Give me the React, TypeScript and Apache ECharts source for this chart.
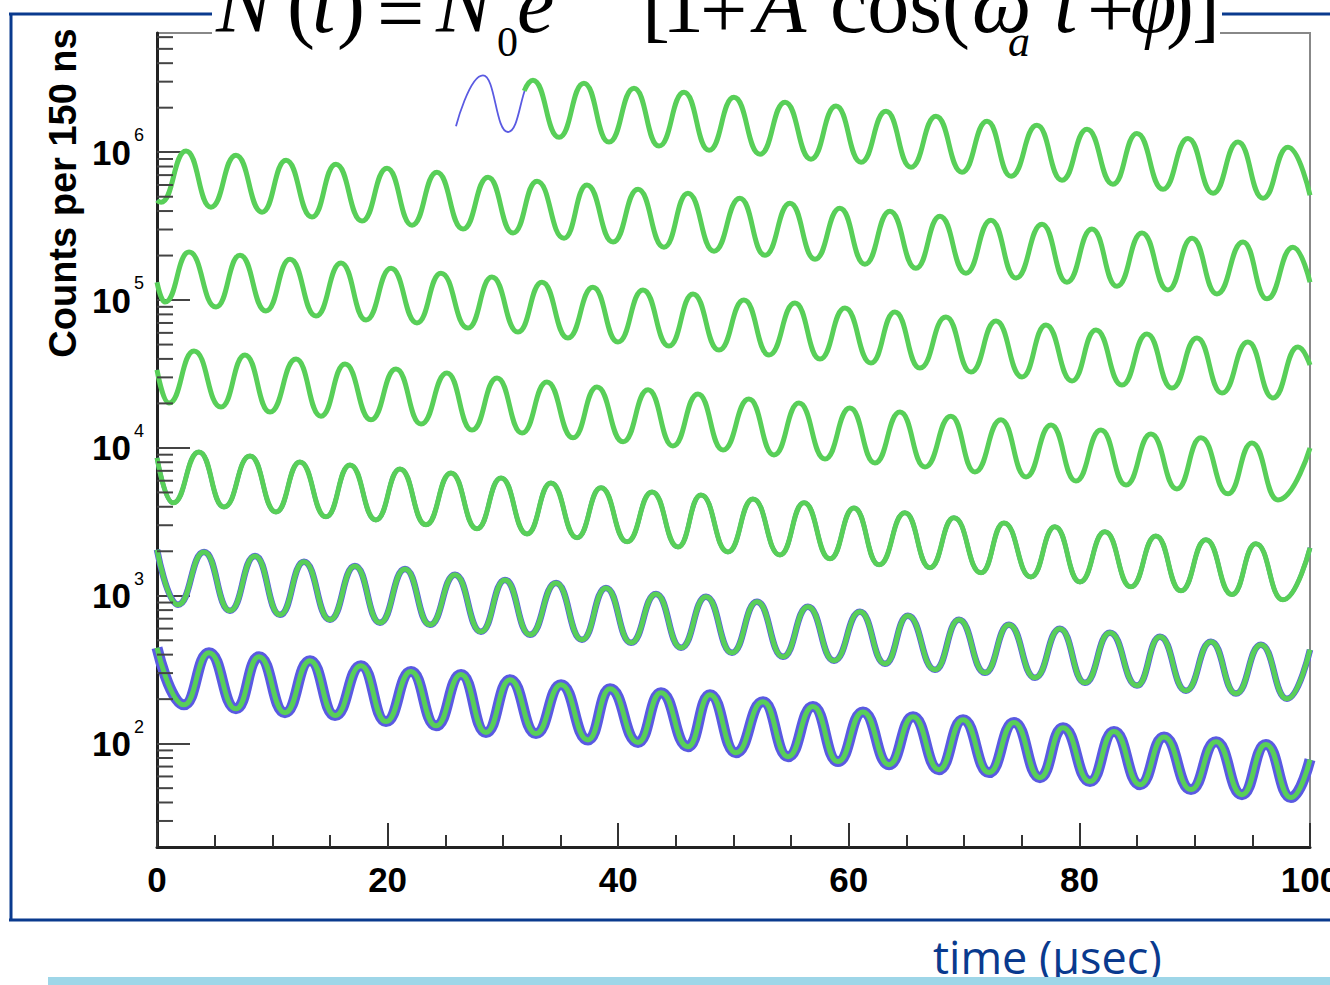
import React, { useEffect, useRef } from "react";
import * as echarts from "echarts";

// ---- data (time in microseconds, counts per 150 ns) ----
const xTickValues = [0, 20, 40, 60, 80, 100];
const yDecadeValues = [1e2, 1e3, 1e4, 1e5, 1e6];
const yMinorTickValues = [
  30, 40, 50, 60, 70, 80, 90,
  200, 300, 400, 500, 600, 700, 800, 900,
  2000, 3000, 4000, 5000, 6000, 7000, 8000, 9000,
  2e4, 3e4, 4e4, 5e4, 6e4, 7e4, 8e4, 9e4,
  2e5, 3e5, 4e5, 5e5, 6e5, 7e5, 8e5, 9e5,
  2e6, 3e6, 4e6, 5e6, 6e6,
];

// early data points of the first strip (before the fit starts)
const dataRow1Early: [number, number][] = [
  [25.93, 1.5e6], [28.27, 3.31e6], [30.44, 1.37e6],
];

// fitted curve, extrema read per strip
const fitRow1: [number, number][] = [
  [31.85, 2.6e6], [32.61, 3.07e6], [34.87, 1.26e6], [37.03, 2.93e6], [39.2, 1.17e6], [41.37, 2.71e6], [43.54, 1.1e6],
  [45.71, 2.54e6], [47.88, 1.03e6], [50.04, 2.35e6], [52.3, 9.69e5], [54.47, 2.18e6], [56.72, 8.97e5],
  [58.89, 2.05e6], [61.06, 8.56e5], [63.23, 1.89e6], [65.39, 7.92e5], [67.56, 1.75e6], [69.82, 7.33e5],
  [71.99, 1.62e6], [74.07, 6.88e5], [76.32, 1.52e6], [78.49, 6.47e5], [80.66, 1.43e6], [82.91, 6.08e5],
  [84.99, 1.34e6], [87.25, 5.62e5], [89.42, 1.24e6], [91.59, 5.28e5], [93.76, 1.17e6], [95.92, 4.89e5],
  [98.09, 1.08e6], [100, 5.12e5],
];
const fitRow2: [number, number][] = [
  [0, 4.74e5], [0.35, 4.59e5], [2.52, 1.02e6], [4.68, 4.25e5], [6.85, 9.55e5], [9.11, 3.93e5], [11.19, 8.83e5],
  [13.44, 3.64e5], [15.52, 8.3e5], [17.78, 3.42e5], [19.95, 7.8e5], [22.12, 3.21e5], [24.28, 7.33e5],
  [26.54, 3.02e5], [28.71, 6.78e5], [30.88, 2.84e5], [32.96, 6.37e5], [35.3, 2.62e5], [37.29, 5.99e5],
  [39.55, 2.47e5], [41.72, 5.62e5], [43.97, 2.28e5], [46.05, 5.28e5], [48.31, 2.14e5], [50.56, 4.89e5],
  [52.73, 2.01e5], [54.9, 4.52e5], [57.07, 1.89e5], [59.23, 4.18e5], [61.4, 1.75e5], [63.57, 3.99e5],
  [65.82, 1.64e5], [67.91, 3.69e5], [70.16, 1.52e5], [72.33, 3.47e5], [74.5, 1.41e5], [76.76, 3.26e5],
  [78.92, 1.32e5], [81.09, 3.02e5], [83.26, 1.24e5], [85.43, 2.84e5], [87.68, 1.17e5], [89.77, 2.62e5],
  [91.93, 1.1e5], [94.19, 2.47e5], [96.27, 1.02e5], [98.52, 2.28e5], [100, 1.32e5],
];
const fitRow3: [number, number][] = [
  [0, 1.32e5], [0.69, 9.69e4], [2.78, 2.11e5], [5.12, 8.97e4], [7.2, 2.01e5], [9.45, 8.43e4], [11.54, 1.89e5],
  [13.79, 7.8e4], [15.96, 1.78e5], [18.13, 7.33e4], [20.3, 1.64e5], [22.55, 7.0e4], [24.63, 1.52e5],
  [26.97, 6.47e4], [29.05, 1.43e5], [31.31, 6.08e4], [33.39, 1.32e5], [35.64, 5.54e4], [37.81, 1.22e5],
  [39.98, 5.2e4], [42.15, 1.17e5], [44.4, 4.89e4], [46.49, 1.1e5], [48.74, 4.59e4], [50.91, 1.0e5],
  [53.08, 4.25e4], [55.33, 9.54e4], [57.5, 3.99e4], [59.67, 8.83e4], [61.92, 3.75e4], [64.0, 8.3e4],
  [66.17, 3.47e4], [68.43, 7.68e4], [70.6, 3.26e4], [72.77, 7.21e4], [75.02, 3.02e4], [77.1, 6.78e4],
  [79.36, 2.84e4], [81.44, 6.27e4], [83.69, 2.66e4], [85.86, 5.89e4], [88.03, 2.54e4], [90.2, 5.54e4],
  [92.37, 2.35e4], [94.62, 5.2e4], [96.79, 2.18e4], [98.96, 4.81e4], [100, 3.64e4],
];
const fitRow4: [number, number][] = [
  [0, 3.37e4], [1.04, 2.01e4], [3.21, 4.52e4], [5.55, 1.89e4], [7.63, 4.25e4], [9.8, 1.75e4], [12.06, 3.99e4],
  [14.22, 1.64e4], [16.31, 3.69e4], [18.56, 1.55e4], [20.73, 3.42e4], [22.9, 1.45e4], [25.15, 3.21e4],
  [27.32, 1.32e4], [29.49, 2.97e4], [31.66, 1.26e4], [33.82, 2.79e4], [36.08, 1.17e4], [38.16, 2.58e4],
  [40.42, 1.1e4], [42.59, 2.47e4], [44.75, 1.03e4], [46.92, 2.32e4], [49.09, 9.69e3], [51.34, 2.14e4],
  [53.51, 8.97e3], [55.68, 2.01e4], [57.93, 8.43e3], [60.1, 1.86e4], [62.27, 7.92e3], [64.44, 1.75e4],
  [66.61, 7.44e3], [68.86, 1.64e4], [70.94, 6.88e3], [73.2, 1.55e4], [75.37, 6.37e3], [77.54, 1.43e4],
  [79.7, 5.98e3], [81.87, 1.32e4], [84.04, 5.62e3], [86.21, 1.24e4], [88.46, 5.28e3], [90.54, 1.17e4],
  [92.89, 4.89e3], [94.97, 1.08e4], [97.22, 4.45e3], [100, 1.0e4],
];
const fitRow5: [number, number][] = [
  [0, 8.56e3], [1.39, 4.25e3], [3.64, 9.4e3], [5.81, 3.99e3], [8.07, 8.83e3], [10.32, 3.69e3], [12.4, 8.04e3],
  [14.66, 3.42e3], [16.74, 7.68e3], [18.99, 3.26e3], [21.08, 7.21e3], [23.33, 3.02e3], [25.5, 6.78e3],
  [27.75, 2.84e3], [29.84, 6.27e3], [32.09, 2.62e3], [34.17, 5.8e3], [36.43, 2.47e3], [38.51, 5.37e3],
  [40.77, 2.32e3], [42.94, 5.04e3], [45.19, 2.14e3], [47.18, 4.81e3], [49.52, 1.98e3], [51.69, 4.52e3],
  [54.03, 1.89e3], [56.12, 4.25e3], [58.37, 1.78e3], [60.45, 3.93e3], [62.62, 1.62e3], [64.87, 3.64e3],
  [67.04, 1.55e3], [69.12, 3.37e3], [71.47, 1.43e3], [73.46, 3.11e3], [75.8, 1.34e3], [77.88, 2.93e3],
  [80.05, 1.24e3], [82.22, 2.71e3], [84.47, 1.15e3], [86.64, 2.54e3], [88.81, 1.08e3], [90.98, 2.39e3],
  [93.23, 1.02e3], [95.31, 2.25e3], [97.65, 940], [100, 2.11e3],
];
const fitRow6: [number, number][] = [
  [0, 2.05e3], [1.82, 870], [4.08, 1.98e3], [6.33, 792], [8.5, 1.86e3], [10.67, 744], [12.75, 1.7e3],
  [15.0, 688], [17.17, 1.59e3], [19.34, 657], [21.51, 1.52e3], [23.68, 637], [25.85, 1.39e3],
  [28.1, 571], [30.18, 1.28e3], [32.35, 545], [34.61, 1.22e3], [36.86, 504], [38.94, 1.13e3],
  [41.11, 481], [43.28, 1.03e3], [45.45, 445], [47.62, 985], [49.87, 412], [52.04, 911],
  [54.29, 387], [56.46, 843], [58.72, 364], [60.97, 780], [63.14, 347], [65.13, 733],
  [67.47, 316], [69.56, 688], [71.81, 302], [73.89, 637], [76.15, 279], [78.31, 599],
  [80.48, 258], [82.65, 562], [84.99, 247], [86.99, 528], [89.24, 228], [91.41, 489],
  [93.58, 218], [95.75, 467], [98.0, 201], [100, 432],
];
const fitRow7: [number, number][] = [
  [0, 445], [2.34, 183], [4.51, 412], [6.85, 172], [8.85, 387], [11.1, 162], [13.27, 364],
  [15.44, 155], [17.69, 337], [19.86, 141], [22.03, 307], [24.2, 132], [26.37, 293],
  [28.53, 119], [30.62, 271], [32.87, 117], [35.04, 250], [37.38, 106], [39.29, 235],
  [41.72, 102], [43.71, 221], [46.05, 95.4], [47.96, 214], [50.21, 86.9], [52.56, 192],
  [54.73, 81.7], [56.89, 178], [59.06, 75.6], [61.23, 164], [63.49, 72.1], [65.57, 152],
  [67.82, 66.7], [69.91, 145], [72.16, 63.7], [74.33, 139], [76.58, 58.9], [78.58, 128],
  [80.92, 55.4], [83.0, 121], [85.26, 52.8], [87.34, 111], [89.68, 48.9], [91.85, 103],
  [94.1, 45.2], [96.18, 98.5], [98.35, 43.2], [100, 78.0],
];

const fitRows = [fitRow1, fitRow2, fitRow3, fitRow4, fitRow5, fitRow6, fitRow7];
const dataRows = [
  [...dataRow1Early, ...fitRow1.slice(1)],
  fitRow2, fitRow3, fitRow4, fitRow5, fitRow6, fitRow7,
];

// ---- styles ----
const GREEN = "#58cf58";
const BLUE = "#5a5ae2";
const NAVY = "#0a3a8e";
const dataWidths = [1.8, 2, 2, 2, 4.5, 6.5, 11];

const serif = "'Liberation Serif', 'Times New Roman', serif";
const sans = "'Liberation Sans', Arial, Helvetica, sans-serif";

type Piece = { t: string; x: number; size: number; italic: boolean; base: number };
const titlePieces: Piece[] = [
  { t: "N", x: 216, size: 84, italic: true, base: 32 },
  { t: "(", x: 287, size: 84, italic: false, base: 32 },
  { t: "t", x: 312, size: 84, italic: true, base: 32 },
  { t: ")", x: 337, size: 84, italic: false, base: 32 },
  { t: "=", x: 377, size: 84, italic: false, base: 42 },
  { t: "N", x: 436, size: 84, italic: true, base: 32 },
  { t: "0", x: 497, size: 42, italic: false, base: 56 },
  { t: "e", x: 517, size: 84, italic: true, base: 32 },
  { t: "\u2212t/\u03b3\u03c4", x: 560, size: 50, italic: true, base: -12 },
  { t: "[", x: 642, size: 84, italic: false, base: 32 },
  { t: "1", x: 662, size: 84, italic: false, base: 32 },
  { t: "+", x: 700, size: 84, italic: false, base: 38 },
  { t: "A", x: 755, size: 84, italic: true, base: 32 },
  { t: "cos(", x: 830, size: 84, italic: false, base: 32 },
  { t: "\u03c9", x: 972, size: 84, italic: true, base: 32 },
  { t: "a", x: 1008, size: 44, italic: true, base: 56 },
  { t: "t", x: 1054, size: 84, italic: true, base: 32 },
  { t: "+", x: 1087, size: 84, italic: false, base: 38 },
  { t: "\u03c6", x: 1130, size: 84, italic: true, base: 32 },
  { t: ")", x: 1166, size: 84, italic: false, base: 32 },
  { t: "]", x: 1192, size: 84, italic: false, base: 32 },
];

export default function App() {
  const ref = useRef<HTMLDivElement>(null);
  useEffect(() => {
    if (!ref.current) return;
    const chart = echarts.init(ref.current, undefined, { renderer: "svg" });

    const dataSeries = dataRows.map((d, i) => ({
      type: "line",
      name: "data",
      data: d,
      smooth: 0.5,
      smoothMonotone: "x",
      showSymbol: false,
      silent: true,
      lineStyle: { color: BLUE, width: dataWidths[i] },
      z: 3,
    }));
    const fitSeries = fitRows.map((d) => ({
      type: "line",
      name: "fit",
      data: d,
      smooth: 0.5,
      smoothMonotone: "x",
      showSymbol: false,
      silent: true,
      lineStyle: { color: GREEN, width: 5 },
      z: 4,
    }));
    const minorTickSeries = {
      type: "custom",
      coordinateSystem: "cartesian2d",
      silent: true,
      clip: false,
      z: 5,
      data: yMinorTickValues.map((v) => [0, v]),
      renderItem: (_p: any, api: any) => {
        const p = api.coord([api.value(0), api.value(1)]);
        return {
          type: "line",
          shape: { x1: p[0], y1: p[1], x2: p[0] + 16, y2: p[1] },
          style: { stroke: "#444", lineWidth: 2 },
        };
      },
    };

    const titleEls = titlePieces.map((p) => ({
      type: "text",
      x: p.x,
      y: p.base - p.size * 0.3375,
      z: 101,
      style: {
        text: p.t,
        fill: "#000",
        font: `${p.italic ? "italic " : ""}${p.size}px ${serif}`,
        align: "left",
        verticalAlign: "middle",
      },
    }));

    chart.setOption({
      animation: false,
      backgroundColor: "#fff",
      grid: {
        left: 157,
        right: 20,
        top: 33,
        bottom: 138,
        outerBoundsMode: "none",
        containLabel: false,
        show: true,
        borderColor: "#888",
        borderWidth: 2,
        backgroundColor: "transparent",
      },
      xAxis: {
        type: "value",
        min: xTickValues[0],
        max: xTickValues[xTickValues.length - 1],
        interval: 20,
        axisLine: { lineStyle: { color: "#222", width: 3 } },
        axisTick: { inside: true, length: 24, lineStyle: { color: "#333", width: 2 } },
        minorTick: { show: true, splitNumber: 4, length: 12, lineStyle: { color: "#333", width: 2 } },
        splitLine: { show: false },
        minorSplitLine: { show: false },
        axisLabel: {
          fontSize: 35,
          fontWeight: "bold",
          fontFamily: sans,
          color: "#000",
          margin: 15,
        },
      },
      yAxis: {
        type: "log",
        logBase: 10,
        min: 20,
        max: 6.4e6,
        axisLine: { show: true, lineStyle: { color: "#222", width: 3 } },
        axisTick: { show: true, inside: true, length: 33, lineStyle: { color: "#444", width: 2 } },
        splitLine: { show: false },
        axisLabel: {
          margin: 13,
          showMinLabel: false,
          showMaxLabel: false,
          formatter: (v: number) => {
            const e = Math.round(Math.log10(v));
            const isDecade = yDecadeValues.some((d) => Math.abs(d - v) / d < 1e-6);
            return isDecade ? `{b|10}{s|${e}}` : "";
          },
          rich: {
            b: { fontSize: 35, fontWeight: "bold", fontFamily: sans, color: "#000", lineHeight: 52, verticalAlign: "middle" },
            s: { fontSize: 18, fontFamily: sans, color: "#000", lineHeight: 18, verticalAlign: "top", padding: [0, 0, 0, 3] },
          },
        },
      },
      series: [...dataSeries, ...fitSeries, minorTickSeries],
      graphic: [
        // outer blue frame
        { type: "line", z: 100, shape: { x1: 9, y1: 14, x2: 212, y2: 14 }, style: { stroke: NAVY, lineWidth: 3 } },
        { type: "line", z: 100, shape: { x1: 1222, y1: 14, x2: 1335, y2: 14 }, style: { stroke: NAVY, lineWidth: 3 } },
        { type: "line", z: 100, shape: { x1: 11, y1: 13, x2: 11, y2: 921 }, style: { stroke: NAVY, lineWidth: 3 } },
        { type: "line", z: 100, shape: { x1: 9, y1: 920, x2: 1335, y2: 920 }, style: { stroke: NAVY, lineWidth: 3 } },
        // white box behind the formula
        { type: "rect", z: 100, shape: { x: 212, y: 0, width: 1008, height: 46 }, style: { fill: "#fff" } },
        ...titleEls,
        // y axis title
        {
          type: "text",
          x: 63,
          y: 193,
          rotation: Math.PI / 2,
          z: 101,
          style: {
            text: "Counts per 150 ns",
            fill: "#000",
            font: `bold 38px ${sans}`,
            align: "center",
            verticalAlign: "middle",
          },
        },
        // x axis title
        {
          type: "text",
          x: 933,
          y: 956,
          z: 101,
          style: {
            text: "time (\u03bcsec)",
            fill: NAVY,
            font: `45px 'Open Sans', ${sans}`,
            align: "left",
            verticalAlign: "middle",
          },
        },
        // light blue rule at the bottom
        { type: "rect", z: 102, shape: { x: 48, y: 977, width: 1290, height: 10 }, style: { fill: "#9ed6e8" } },
      ],
    });
    return () => chart.dispose();
  }, []);
  return (
    <div
      ref={ref}
      style={{ position: "fixed", left: 0, top: 0, width: 1330, height: 985, background: "#fff" }}
    />
  );
}
